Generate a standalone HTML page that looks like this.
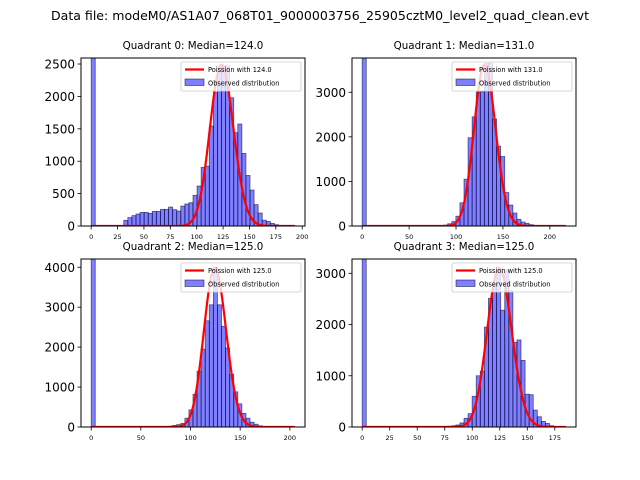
<!DOCTYPE html>
<html><head><meta charset="utf-8">
<style>
html,body{margin:0;padding:0;background:#fff;}
svg{display:block;font-family:"DejaVu Sans","Liberation Sans",sans-serif;}
</style></head>
<body>
<svg id="fig" width="640" height="480" viewBox="0 0 640 480" xmlns="http://www.w3.org/2000/svg">
<text x="320" y="20" text-anchor="middle" font-size="12" textLength="538" lengthAdjust="spacingAndGlyphs">Data file: modeM0/AS1A07_068T01_9000003756_25905cztM0_level2_quad_clean.evt</text>
</svg>
<script>
// ---- data ----
const q0Counts = [9000,0,0,0,0,0,0,0,87,130,160,185,210,210,195,225,225,257,257,293,252,231,308,340,360,473,617,905,925,1543,2060,2450,2470,2470,1980,1440,1574,1120,780,555,330,200,90,70,40,20,10,5,2,1];
const q1Counts = [9000,0,0,0,0,0,0,0,0,0,0,0,0,0,0,0,0,0,0,5,20,50,100,220,520,1050,1980,2450,3000,3010,3650,3650,2400,1790,1560,750,470,290,150,90,60,30,15,8,4,2,1,1,0,1];
const q2Counts = [9000,0,0,0,0,0,0,0,0,0,0,0,0,0,0,0,0,0,0,20,40,60,90,220,430,820,1400,1950,2660,3060,4000,3060,2520,1980,1320,880,580,340,220,120,70,30,15,8,4,2,1,0,0,1];
const q3Counts = [9000,0,0,0,0,0,0,0,0,0,0,0,0,0,0,0,0,0,0,0,10,15,25,40,80,170,260,600,1000,1090,1950,2510,2800,3060,2280,3060,2660,1650,1700,1300,640,630,330,200,110,70,25,10,5,2];
const histMax = [193, 217, 205, 185];
const medians = [124.0, 131.0, 125.0, 125.0];
const curvePeaks = [2490, 3620, 3980, 3100];
const yTicks0 = [0,500,1000,1500,2000,2500];
const yTicks1 = [0,1000,2000,3000];
const yTicks2 = [0,1000,2000,3000,4000];
const yTicks3 = [0,1000,2000,3000];
const xTicks0 = [0,25,50,75,100,125,150,175,200];
const xTicks1 = [0,50,100,150,200];
const xTicks2 = [0,50,100,150,200];
const xTicks3 = [0,25,50,75,100,125,150,175];
const yMaxes = [2593, 3769, 4207, 3279];

const NS = "http://www.w3.org/2000/svg";
const fig = document.getElementById('fig');
function mk(tag, attrs, parent){
  const e = document.createElementNS(NS, tag);
  for (const k in attrs) e.setAttribute(k, attrs[k]);
  (parent||fig).appendChild(e);
  return e;
}
const boxes = [[81,58,305,226],[352,58,576,226],[81,259,305,427],[352,259,576,427]];
const counts = [q0Counts,q1Counts,q2Counts,q3Counts];
const yT = [yTicks0,yTicks1,yTicks2,yTicks3];
const xT = [xTicks0,xTicks1,xTicks2,xTicks3];

function lgamma(z){
  const g=7, c=[0.99999999999980993,676.5203681218851,-1259.1392167224028,771.32342877765313,-176.61502916214059,12.507343278686905,-0.13857109526572012,9.9843695780195716e-6,1.5056327351493116e-7];
  if(z<0.5) return Math.log(Math.PI/Math.sin(Math.PI*z)) - lgamma(1-z);
  z-=1; let x=c[0]; for(let i=1;i<g+2;i++) x+=c[i]/(z+i);
  const t=z+g+0.5; return 0.5*Math.log(2*Math.PI)+(z+0.5)*Math.log(t)-t+Math.log(x);
}
function lnPoisson(k, lam){ return k*Math.log(lam) - lam - lgamma(k+1); }

for (let q=0;q<4;q++){
  const [L,T,R,B] = boxes[q];
  const mx = histMax[q];
  const xmin = -0.05*mx, xmax = 1.05*mx;
  const ymax = yMaxes[q];
  const sx = v => L + (v - xmin)/(xmax - xmin)*(R-L);
  const sy = v => B - v/ymax*(B-T);
  const g = mk('g', {});
  
  
  const clipId = 'clip'+q;
  const cp = mk('clipPath', {id: clipId}, g);
  mk('rect', {x:L, y:T, width:R-L, height:B-T}, cp);

  const t = mk('text', {x:(L+R)/2, y:T-9, 'text-anchor':'middle', 'font-size':'10.3'}, g);
  t.textContent = 'Quadrant ' + q + ': Median=' + medians[q].toFixed(1);
  
  

  const bars = mk('g', {'clip-path':'url(#'+clipId+')'}, g);
  const bw = mx/counts[q].length;
  counts[q].forEach((c,i)=>{
    if (c<=0) return;
    const x0 = sx(i*bw), x1 = sx((i+1)*bw);
    const r = mk('rect', {x:x0, y:sy(c), width:x1-x0, height:B - sy(c), fill:'rgba(0,0,255,0.5)', stroke:'rgba(0,0,40,0.6)', 'stroke-width':'0.8'}, bars);
    
    
  });

  const lam = medians[q];
  const peakLn = lnPoisson(Math.floor(lam), lam);
  let d = '';
  for (let k=0;k<=Math.floor(mx);k++){
    const v = curvePeaks[q]*Math.exp(lnPoisson(k,lam)-peakLn);
    d += (k===0?'M':'L') + sx(k).toFixed(2) + ',' + sy(v).toFixed(2);
  }
  const p = mk('path', {d:d, fill:'none', stroke:'#ff0000', 'stroke-width':'2.2', 'clip-path':'url(#'+clipId+')'}, g);
  
  

  const fr = mk('rect', {x:L, y:T, width:R-L, height:B-T, fill:'none', stroke:'#000', 'stroke-width':'1'}, g);
  
  

  yT[q].forEach(v=>{
    const y = sy(v);
    mk('line', {x1:L-3.5, x2:L, y1:y, y2:y, stroke:'#000', 'stroke-width':'0.8'}, g);
    const tl = mk('text', {x:L-6, y:y+4.5, 'text-anchor':'end', 'font-size':'12'}, g);
    tl.textContent = v;
    
    
  });
  xT[q].forEach(v=>{
    const x = sx(v);
    mk('line', {x1:x, x2:x, y1:B, y2:B+3.5, stroke:'#000', 'stroke-width':'0.8'}, g);
    const tl = mk('text', {x:x, y:B+13, 'text-anchor':'middle', 'font-size':'6.5'}, g);
    tl.textContent = v;
    
    
  });

  const lg = mk('g', {}, g);
  
  
  const lx = R-124, ly = T+4;
  mk('rect', {x:lx, y:ly, width:120, height:29, fill:'rgba(255,255,255,0.8)', stroke:'#ccc', 'stroke-width':'0.8', rx:'1.5'}, lg);
  mk('line', {x1:lx+4, x2:lx+23, y1:ly+7.5, y2:ly+7.5, stroke:'#ff0000', 'stroke-width':'2.2'}, lg);
  const l1 = mk('text', {x:lx+27, y:ly+10, 'font-size':'6.6'}, lg);
  l1.textContent = 'Poission with ' + medians[q].toFixed(1);
  
  
  mk('rect', {x:lx+4, y:ly+17, width:19, height:6.5, fill:'rgba(0,0,255,0.5)', stroke:'rgba(0,0,40,0.6)', 'stroke-width':'0.8'}, lg);
  const l2 = mk('text', {x:lx+27, y:ly+23.5, 'font-size':'6.6'}, lg);
  l2.textContent = 'Observed distribution';
  
  
}
</script>
</body></html>
